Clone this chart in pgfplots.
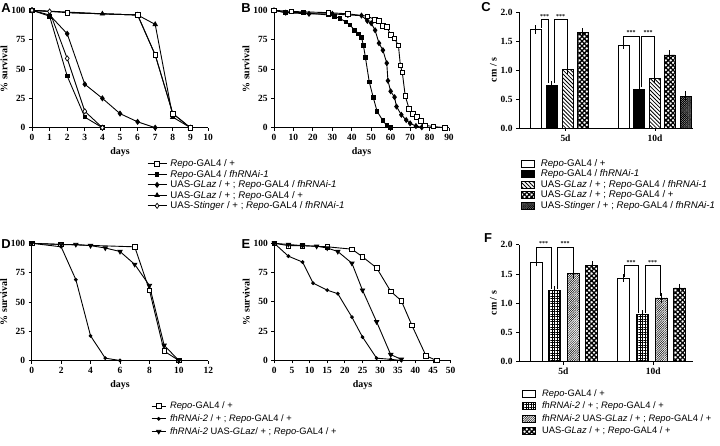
\documentclass[border=0pt]{standalone}
\usepackage{fontspec}
\setmainfont{Liberation Serif}
\newfontfamily\lsans{Liberation Sans}
\usepackage{pgfplots}
\pgfplotsset{compat=1.18}
\usetikzlibrary{patterns,patterns.meta}

\pgfplotsset{
  common/.style={
    scale only axis, axis lines*=left, clip=false,
    tick align=outside, major tick length=3bp,
    tick style={black, line width=0.8pt},
    axis line style={line width=0.9pt},
    /pgf/number format/assume math mode=true,
    ticklabel style={font=\fontsize{9.5}{10}\selectfont\bfseries},
    label style={font=\fontsize{10}{12}\selectfont\bfseries},
    ylabel shift=-3pt,
    legend style={draw=none, fill=none, font=\lsans\fontsize{9.7}{10}\selectfont,
      cells={anchor=west}, row sep=0.3pt, inner sep=0pt, nodes={inner sep=0.85pt}},
  },
  surv/.style={common,
    ymin=0, ymax=100, ytick={0,25,50,75,100},
    ylabel={\% survival}, xlabel={days},
    every axis plot/.append style={black, line width=0.9pt},
  },
  cbar/.style={common,
    xmin=519, xmax=693, ymin=0, ymax=2,
    ytick={0,0.5,1,1.5,2},
    yticklabel style={/pgf/number format/.cd, fixed, fixed zerofill, precision=1},
    ylabel={cm / s},
  },
  osq/.style={mark=square*, mark size=2.3pt, mark options={fill=white, solid, line width=0.7pt}},
  fsq/.style={mark=square*, mark size=1.8pt, mark options={solid}},
  fdia/.style={mark=diamond*, mark size=2.4pt, mark options={solid}},
  ftri/.style={mark=triangle*, mark size=2.4pt, mark options={solid}},
  odia/.style={mark=diamond*, mark size=2.6pt, mark options={fill=white, solid, line width=0.7pt}},
  fcir/.style={mark=*, mark size=1.4pt, mark options={solid}},
  itri/.style={mark=triangle*, mark size=2.4pt, mark options={rotate=180, solid}},
  barc/.style={ybar, bar shift=0pt, draw=black, line width=0.7pt,
    /pgfplots/error bars/y dir=both, /pgfplots/error bars/y explicit,
    /pgfplots/error bars/error bar style={line width=0.6pt, black},
    /pgfplots/error bars/error mark options={mark size=3pt, line width=0.6pt, black},
    /pgfplots/legend image code/.code={\draw[##1, line width=0.6pt] (0bp,-3.4bp) rectangle (13bp,3.4bp);},
  },
}

\begin{document}
\begin{tikzpicture}
\path[use as bounding box] (0,0) rectangle (720bp,446bp);

% ---------------- A ----------------
\begin{axis}[surv, at={(32bp,318.3bp)}, anchor=south west, width=176bp, height=117.4bp,
  xmin=0, xmax=10, xtick={0,1,...,10},
  legend image code/.code={\draw[mark repeat=2,mark phase=2,#1] plot coordinates {(0bp,0bp) (9.5bp,0bp) (19bp,0bp)};},
  legend style={at={(0.653,-0.263)}, anchor=north west, /tikz/every odd column/.append style={column sep=2.5pt}}]
\addplot[osq] coordinates {(0,100) (2,98) (6,96) (7,62) (8,12) (9,0)};
\addlegendentry{\textit{Repo}-GAL4 / +}
\addplot[fsq] coordinates {(0,100) (1,95) (2,44) (3,9) (4,0)};
\addlegendentry{\textit{Repo}-GAL4 / \textit{fhRNAi-1}}
\addplot[fdia] coordinates {(0,100) (1,96) (2,80) (3,37) (4,25) (5,12) (6,5) (7,0)};
\addlegendentry{UAS-\textit{GLaz} / + ; \textit{Repo}-GAL4 / \textit{fhRNAi-1}}
\addplot[ftri] coordinates {(0,100) (4,97) (6,96) (7,88) (8,9) (9,0)};
\addlegendentry{UAS-\textit{GLaz} / + ; \textit{Repo}-GAL4 / +}
\addplot[odia] coordinates {(0,100) (1,99) (2,59) (3,14) (4,0)};
\addlegendentry{UAS-\textit{Stinger} / + ; \textit{Repo}-GAL4 / \textit{fhRNAi-1}}
\addplot[osq] coordinates {(2,98) (6,96) (7,62) (8,12) (9,0)};
\end{axis}

% ---------------- B ----------------
\begin{axis}[surv, at={(274bp,318.3bp)}, anchor=south west, width=175bp, height=117.4bp,
  xmin=0, xmax=90, xtick={0,10,...,90}]
\addplot[fdia] coordinates {(0,100) (6,98) (18,97) (30,97) (38,96) (45,95.5) (48,91) (50,89) (52,83) (54,72) (56,66) (58,55) (58.6,40) (60,31) (62,26) (63,18) (65.5,11) (68,6.5) (70,3.7) (73,1.4) (76,0.3)};
\addplot[fsq] coordinates {(0,100) (6,98) (15,98) (28,96) (31,95) (34,93) (37,90) (39,87.5) (41.5,83) (43.5,80) (45,77) (46,70) (47,60) (49,39) (51,26) (53,14) (56,6) (58,2) (60,0)};
\addplot[osq] coordinates {(0,100) (9,99) (28,98) (38,97) (48,95) (52,92) (54,91) (56,87) (58,86) (60,79) (62,76) (64,70) (65,53) (66,47) (67.5,27) (69.5,16) (71.5,12) (73.5,9) (75.5,6) (77.5,2) (82,1) (88,0)};
\end{axis}

% ---------------- C ----------------
\begin{axis}[cbar, at={(519bp,318bp)}, anchor=south west, width=174bp, height=116bp,
  xtick={565.5,655}, xticklabels={5d,10d},
  legend style={at={(0.01,-0.26)}, anchor=north west, /tikz/every odd column/.append style={column sep=5.5pt}}]
\addplot[barc, fill=white, bar width=11] coordinates {(535.5,1.70) +- (0,0.02) (623.5,1.43) +- (0,0.01)};
\addlegendentry{\textit{Repo}-GAL4 / +}
\addplot[barc, fill=black, bar width=11] coordinates {(551.5,0.74) +- (0,0.02) (639,0.66) +- (0,0.03)};
\addlegendentry{\textit{Repo}-GAL4 / \textit{fhRNAi-1}}
\addplot[barc, pattern={Lines[angle=-45,distance=2.8pt,line width=0.8pt]}, bar width=11] coordinates {(567.5,1.01) +- (0,0.02) (654.5,0.85) +- (0,0.02)};
\addlegendentry{UAS-\textit{GLaz} / + ; \textit{Repo}-GAL4 / \textit{fhRNAi-1}}
\addplot[barc, pattern={Hatch[angle=45,distance=3.4pt,line width=1.3pt]}, bar width=11] coordinates {(582.5,1.65) +- (0,0.02) (669.5,1.26) +- (0,0.03)};
\addlegendentry{UAS-\textit{GLaz} / + ; \textit{Repo}-GAL4 / +}
\addplot[barc, fill=black!40, postaction={pattern={Hatch[angle=45,distance=1.5pt,line width=0.45pt]}}, bar width=11] coordinates {(685.5,0.55) +- (0,0.04)};
\addlegendentry{UAS-\textit{Stinger} / + ; \textit{Repo}-GAL4 / \textit{fhRNAi-1}}
\draw[line width=0.6pt] (axis cs:541,1.73) -- (axis cs:541,1.87) -- (axis cs:548.5,1.87) -- (axis cs:548.5,0.77);
\draw[line width=0.6pt] (axis cs:554,0.77) -- (axis cs:554,1.87) -- (axis cs:567.3,1.87) -- (axis cs:567.3,1.04);
\draw[line width=0.6pt] (axis cs:623.5,1.45) -- (axis cs:623.5,1.58) -- (axis cs:639,1.58) -- (axis cs:639,0.70);
\draw[line width=0.6pt] (axis cs:641.7,0.70) -- (axis cs:641.7,1.58) -- (axis cs:654.5,1.58) -- (axis cs:654.5,0.88);
\node[font=\fontsize{6}{6}\selectfont\bfseries] at (axis cs:544.5,1.93) {***};
\node[font=\fontsize{6}{6}\selectfont\bfseries] at (axis cs:560.5,1.93) {***};
\node[font=\fontsize{6}{6}\selectfont\bfseries] at (axis cs:631,1.64) {***};
\node[font=\fontsize{6}{6}\selectfont\bfseries] at (axis cs:648,1.64) {***};
\end{axis}

% ---------------- D ----------------
\begin{axis}[surv, at={(31.7bp,85.5bp)}, anchor=south west, width=176.6bp, height=117.2bp,
  xmin=0, xmax=12, xtick={0,2,...,12},
  legend image code/.code={\draw[mark repeat=2,mark phase=2,#1] plot coordinates {(0bp,0bp) (7bp,0bp) (14bp,0bp)};},
  legend style={at={(0.676,-0.345)}, anchor=north west, row sep=2.7pt,
    font=\lsans\fontsize{9.4}{10}\selectfont, /tikz/every odd column/.append style={column sep=3pt}}]
\addplot[osq] coordinates {(0,100) (2,99) (7,97) (8,60) (9,8) (10,0)};
\addlegendentry{\textit{Repo}-GAL4 / +}
\addplot[fcir] coordinates {(0,100) (2,97) (3,69) (4,21) (5,2) (6,0)};
\addlegendentry{\textit{fhRNAi-2} / + ; \textit{Repo}-GAL4 / +}
\addplot[itri] coordinates {(0,100) (2,99) (3,99) (4,98) (5,96) (6,93) (7,82) (8,64) (9,13) (10,0)};
\addlegendentry{\textit{fhRNAi-2} UAS-\textit{GLaz}/ + ; \textit{Repo}-GAL4 / +}
\end{axis}

% ---------------- E ----------------
\begin{axis}[surv, at={(274.3bp,85.5bp)}, anchor=south west, width=176.4bp, height=117.2bp,
  xmin=0, xmax=50, xtick={0,5,...,50}]
\addplot[osq] coordinates {(0,100) (4,98) (8,98) (15,97) (22,95) (25,88.5) (29,79) (33,59) (36,51) (39,30) (43,4) (46,0)};
\addplot[fcir] coordinates {(0,100) (4,89) (8,84) (11,66) (15,60) (18,57) (22,37) (25,20) (29,2) (33,1) (36,0)};
\addplot[itri] coordinates {(0,100) (4,99) (8,98) (12,97.5) (15,96) (18,93) (22,83) (25,60) (29,33) (33,5) (36,1)};
\end{axis}

% ---------------- F ----------------
\begin{axis}[cbar, at={(519bp,84.3bp)}, anchor=south west, width=174bp, height=117bp,
  xtick={563.3,653.3}, xticklabels={5d,10d},
  legend style={at={(0.017,-0.229)}, anchor=north west, row sep=2.4pt,
    font=\lsans\fontsize{9.4}{10}\selectfont, /tikz/every odd column/.append style={column sep=5.5pt}}]
\addplot[barc, fill=white, bar width=12] coordinates {(536,1.70) +- (0,0.02) (623.3,1.43) +- (0,0.01)};
\addlegendentry{\textit{Repo}-GAL4 / +}
\addplot[barc, pattern={Hatch[angle=0,distance=2.6pt,line width=0.4pt]}, bar width=12] coordinates {(554.5,1.22) +- (0,0.02) (642.5,0.81) +- (0,0.02)};
\addlegendentry{\textit{fhRNAi-2} / + ; \textit{Repo}-GAL4 / +}
\addplot[barc, pattern={Lines[angle=45,distance=1.6pt,line width=0.5pt]}, bar width=12] coordinates {(573,1.51) +- (0,0.04) (661,1.09) +- (0,0.03)};
\addlegendentry{\textit{fhRNAi-2} UAS-\textit{GLaz} / + ; \textit{Repo}-GAL4 / +}
\addplot[barc, pattern={Hatch[angle=45,distance=3.4pt,line width=1.3pt]}, bar width=12] coordinates {(591.8,1.65) +- (0,0.02) (679.3,1.26) +- (0,0.02)};
\addlegendentry{UAS-\textit{GLaz} / + ; \textit{Repo}-GAL4 / +}
\draw[line width=0.6pt] (axis cs:536,1.73) -- (axis cs:536,1.96) -- (axis cs:551,1.96) -- (axis cs:551,1.25);
\draw[line width=0.6pt] (axis cs:557,1.25) -- (axis cs:557,1.96) -- (axis cs:573,1.96) -- (axis cs:573,1.56);
\draw[line width=0.6pt] (axis cs:624,1.45) -- (axis cs:624,1.64) -- (axis cs:638.3,1.64) -- (axis cs:638.3,0.84);
\draw[line width=0.6pt] (axis cs:645,0.84) -- (axis cs:645,1.64) -- (axis cs:660,1.64) -- (axis cs:660,1.13);
\node[font=\fontsize{6}{6}\selectfont\bfseries] at (axis cs:543.5,2.02) {***};
\node[font=\fontsize{6}{6}\selectfont\bfseries] at (axis cs:565,2.02) {***};
\node[font=\fontsize{6}{6}\selectfont\bfseries] at (axis cs:631,1.70) {***};
\node[font=\fontsize{6}{6}\selectfont\bfseries] at (axis cs:652.5,1.70) {***};
\end{axis}

% panel letters
\node[font=\lsans\bfseries\fontsize{13}{13}\selectfont] at (6bp,438bp) {A};
\node[font=\lsans\bfseries\fontsize{13}{13}\selectfont] at (246bp,438bp) {B};
\node[font=\lsans\bfseries\fontsize{13}{13}\selectfont] at (486bp,439bp) {C};
\node[font=\lsans\bfseries\fontsize{13}{13}\selectfont] at (6bp,202bp) {D};
\node[font=\lsans\bfseries\fontsize{13}{13}\selectfont] at (246bp,202bp) {E};
\node[font=\lsans\bfseries\fontsize{13}{13}\selectfont] at (488bp,208bp) {F};
\end{tikzpicture}
\end{document}
